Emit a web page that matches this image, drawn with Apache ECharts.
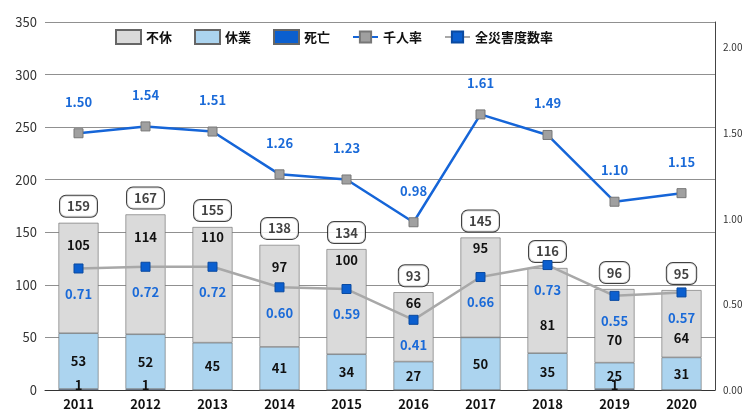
<!DOCTYPE html>
<html><head><meta charset="utf-8">
<script src="https://cdn.jsdelivr.net/npm/echarts@6/dist/echarts.min.js"></script>
<style>html,body{margin:0;padding:0;background:#fff}#c{width:750px;height:416px}</style>
</head><body><div id="c"></div>
<script>
var years = ['2011','2012','2013','2014','2015','2016','2017','2018','2019','2020'];
var fukyu = [105,114,110,97,100,66,95,81,70,64];
var kyugyo = [53,52,45,41,34,27,50,35,25,31];
var shibo = [1,1,0,0,0,0,0,0,1,0];
var totals = [159,167,155,138,134,93,145,116,96,95];
var senninritsu = [1.50,1.54,1.51,1.26,1.23,0.98,1.61,1.49,1.10,1.15];
var dosuritsu = [0.71,0.72,0.72,0.60,0.59,0.41,0.66,0.73,0.55,0.57];

var font = 'Noto Sans CJK JP';
var chart = echarts.init(document.getElementById('c'));
var bold = {color:'#111', fontWeight:'bold', fontSize:13};

chart.setOption({
  textStyle:{fontFamily:font},
  animation:false,
  grid:{left:45, right:35, top:22, bottom:26},
  legend:{top:24, left:110, itemGap:22, textStyle:{fontSize:13, fontWeight:'bold', color:'#111'},
    data:[{name:'不休',icon:'rect'},{name:'休業',icon:'rect'},{name:'死亡',icon:'rect'},'千人率','全災害度数率']},
  xAxis:{type:'category', data:years, axisTick:{show:false},
    axisLine:{lineStyle:{color:'#333'}}, axisLabel:{color:'#111', fontWeight:'bold', fontSize:13}},
  yAxis:[
    {type:'value', min:0, max:350, interval:50, axisLine:{show:false}, axisTick:{show:false},
     axisLabel:{color:'#333', fontSize:13}, splitLine:{lineStyle:{color:'#444', width:0.6}}},
    {type:'value', min:0, max:2.15, interval:0.5, position:'right',
     axisLine:{show:true, lineStyle:{color:'#444'}}, axisTick:{show:false}, splitLine:{show:false},
     axisLabel:{fontSize:10, color:'#333', formatter:function(v){ return (Math.abs(v*2-Math.round(v*2))<1e-6) ? v.toFixed(2) : ''; }}}
  ],
  series:[
    {name:'死亡', type:'bar', stack:'a', barWidth:40, data:shibo,
      itemStyle:{color:'#0b5fcf', borderColor:'#666', borderWidth:0.6},
      label:Object.assign({show:true, position:'insideBottom', distance:-2,
        formatter:function(p){ return p.value ? p.value : ''; }}, bold)},
    {name:'休業', type:'bar', stack:'a', barWidth:40, data:kyugyo,
      itemStyle:{color:'#acd4ef', borderColor:'#666', borderWidth:0.6},
      label:Object.assign({show:true, position:'inside'}, bold)},
    {name:'不休', type:'bar', stack:'a', barWidth:40, data:fukyu,
      itemStyle:{color:'#dadada', borderColor:'#666', borderWidth:0.6},
      label:Object.assign({show:true, position:'insideTop', distance:16}, bold)},
    {name:'合計', type:'scatter', data:years.map(function(y,i){ return [y, totals[i]]; }),
      symbolSize:0, silent:true,
      label:Object.assign({show:true, position:'top', distance:6,
        backgroundColor:'#fff', borderColor:'#111', borderWidth:1, borderRadius:6, padding:[4,7],
        formatter:function(p){ return p.value[1]; }}, bold)},
    {name:'千人率', type:'line', yAxisIndex:1, data:senninritsu, symbol:'rect', symbolSize:9,
      lineStyle:{color:'#1565d8', width:2.5}, itemStyle:{color:'#a0a0a0', borderColor:'#777', borderWidth:1},
      label:{show:true, position:'top', distance:20, color:'#1a6ad8', fontWeight:'bold', fontSize:13,
        formatter:function(p){ return p.value.toFixed(2); }}},
    {name:'全災害度数率', type:'line', yAxisIndex:1, data:dosuritsu, symbol:'rect', symbolSize:9,
      lineStyle:{color:'#a8a8a8', width:2.5}, itemStyle:{color:'#0b5fcf', borderColor:'#0a4aa0', borderWidth:1},
      label:{show:true, position:'bottom', distance:14, color:'#1a6ad8', fontWeight:'bold', fontSize:13,
        formatter:function(p){ return p.value.toFixed(2); }}}
  ]
});

// move 不休 labels away from the 度数率 markers where they would collide
var fukyuData = fukyu.map(function(v, i){
  var topY = chart.convertToPixel({yAxisIndex:0}, totals[i]);
  var ptY = chart.convertToPixel({yAxisIndex:1}, dosuritsu[i]);
  var diff = ptY - topY;
  if (diff < 15) return {value:v, label:{position:'inside', offset:[0,14]}};
  if (diff < 40) return {value:v, label:{position:'insideTop', distance:4}};
  return v;
});
chart.setOption({series:[{},{},{data:fukyuData}]});
</script></body></html>
